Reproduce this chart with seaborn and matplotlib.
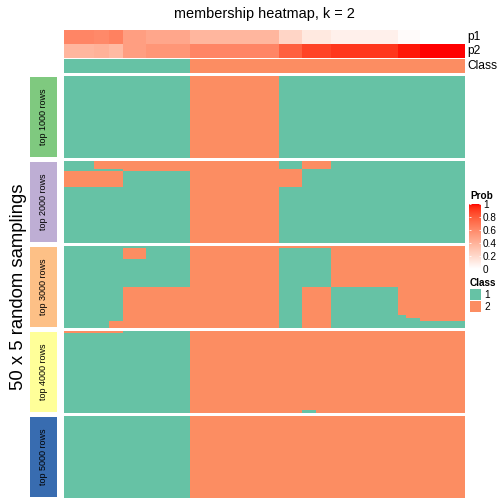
import numpy as np
import matplotlib
matplotlib.use('Agg')
import matplotlib.pyplot as plt
from matplotlib.colors import ListedColormap, Normalize
from matplotlib.patches import Rectangle
import seaborn as sns

# ---- data -------------------------------------------------------------
# membership probabilities of the 54 samples (columns)
p1 = [0.62, 0.62, 0.62, 0.62, 0.60, 0.60, 0.64, 0.64, 0.50, 0.50, 0.50,
      0.46, 0.46, 0.46, 0.46, 0.46, 0.46,
      0.38, 0.38, 0.38, 0.38, 0.38, 0.38, 0.38, 0.38, 0.38, 0.38, 0.38, 0.38,
      0.22, 0.22, 0.22, 0.12, 0.12, 0.12, 0.12,
      0.08, 0.08, 0.08, 0.08, 0.08, 0.08, 0.08, 0.08, 0.08,
      0.02, 0.02, 0.02, 0.0, 0.0, 0.0, 0.0, 0.0, 0.0]
p2 = [0.38, 0.38, 0.38, 0.38, 0.40, 0.40, 0.36, 0.36, 0.50, 0.50, 0.50,
      0.54, 0.54, 0.54, 0.54, 0.54, 0.54,
      0.62, 0.62, 0.62, 0.62, 0.62, 0.62, 0.62, 0.62, 0.62, 0.62, 0.62, 0.62,
      0.78, 0.78, 0.78, 0.88, 0.88, 0.88, 0.88,
      0.92, 0.92, 0.92, 0.92, 0.92, 0.92, 0.92, 0.92, 0.92,
      0.98, 0.98, 0.98, 1.0, 1.0, 1.0, 1.0, 1.0, 1.0]
sample_class = "1111 11 11 111 111111 222222222222 222 2222 222222222 2 22 222222"

# class labels of the 50 random samplings per slice, as (n_rows, row pattern)
slices = {
    "top 1000 rows": [
        (50, "1111 11 11 111 111111 222222222222 111 1111 111111111 1 11 111111"),
    ],
    "top 2000 rows": [
        (5,  "1111 22 22 222 222222 222222222222 111 2222 111111111 1 11 111111"),
        (1,  "1111 11 11 222 222222 222222222222 222 1111 111111111 1 11 111111"),
        (10, "2222 22 22 111 111111 222222222222 222 1111 111111111 1 11 111111"),
        (34, "1111 11 11 111 111111 222222222222 111 1111 111111111 1 11 111111"),
    ],
    "top 3000 rows": [
        (1,  "1111 11 11 111 111111 222222222222 222 2222 222222222 2 22 222222"),
        (7,  "1111 11 11 222 111111 222222222222 111 1111 222222222 2 22 222222"),
        (17, "1111 11 11 111 111111 222222222222 111 1111 222222222 2 22 222222"),
        (17, "1111 11 11 222 222222 222222222222 111 2222 111111111 2 22 222222"),
        (2,  "1111 11 11 222 222222 222222222222 111 2222 111111111 1 22 222222"),
        (2,  "1111 11 11 222 222222 222222222222 111 2222 111111111 1 11 222222"),
        (4,  "1111 11 22 222 222222 222222222222 111 2222 111111111 1 11 111111"),
    ],
    "top 4000 rows": [
        (1,  "2222 22 22 111 111111 222222222222 222 2222 222222222 2 22 222222"),
        (47, "1111 11 11 111 111111 222222222222 222 2222 222222222 2 22 222222"),
        (2,  "1111 11 11 111 111111 222222222222 222 1122 222222222 2 22 222222"),
    ],
    "top 5000 rows": [
        (50, "1111 11 11 111 111111 222222222222 222 2222 222222222 2 22 222222"),
    ],
}
slice_colors = ["#7FC97F", "#BEAED4", "#FDC086", "#FFFF99", "#386CB0"]
class_colors = ["#66C2A5", "#FC8D62"]


def parse(pattern):
    return [int(c) for c in pattern.replace(" ", "")]


def lab_ramp(c0, c1, n=256):
    """white -> red ramp interpolated in LAB space (like colorRamp2)"""
    M = np.array([[0.4124, 0.3576, 0.1805],
                  [0.2126, 0.7152, 0.0722],
                  [0.0193, 0.1192, 0.9505]])
    wp = np.array([0.95047, 1.0, 1.08883])

    def to_lab(c):
        c = np.asarray(c, float)
        lin = np.where(c <= 0.04045, c / 12.92, ((c + 0.055) / 1.055) ** 2.4)
        xyz = M @ lin / wp
        f = np.where(xyz > 0.008856, np.cbrt(xyz), 7.787 * xyz + 16 / 116)
        return np.array([116 * f[1] - 16, 500 * (f[0] - f[1]), 200 * (f[1] - f[2])])

    l0, l1 = to_lab(c0), to_lab(c1)
    t = np.linspace(0, 1, n)[:, None]
    lab = l0 + (l1 - l0) * t
    fy = (lab[:, 0] + 16) / 116
    f = np.stack([fy + lab[:, 1] / 500, fy, fy - lab[:, 2] / 200], 1)
    xyz = np.where(f ** 3 > 0.008856, f ** 3, (f - 16 / 116) / 7.787) * wp
    lin = np.clip(xyz @ np.linalg.inv(M).T, 0, 1)
    rgb = np.where(lin <= 0.0031308, 12.92 * lin, 1.055 * lin ** (1 / 2.4) - 0.055)
    return ListedColormap(np.clip(rgb, 0, 1))


prob_cmap = lab_ramp([1, 1, 1], [1, 0, 0])
class_cmap = ListedColormap(class_colors)

plt.rcParams['font.family'] = ['Liberation Sans', 'DejaVu Sans']

W = H = 504
fig = plt.figure(figsize=(7, 7), dpi=72)


def box(x0, y0, x1, y1):
    # pixel box (top-left origin) -> figure fraction
    return [x0 / W, 1 - y1 / H, (x1 - x0) / W, (y1 - y0) / H]


def fpos(x, y):
    return x / W, 1 - y / H


X0, X1 = 64, 465

# top annotations
for (y0, y1), vals, cmap, vr in [((30, 44), p1, prob_cmap, (0, 1)),
                                 ((44, 58), p2, prob_cmap, (0, 1)),
                                 ((59, 73), parse(sample_class), class_cmap, (1, 2))]:
    ax = fig.add_axes(box(X0, y0, X1, y1))
    sns.heatmap(np.array(vals, float)[None, :], ax=ax, cmap=cmap, vmin=vr[0], vmax=vr[1],
                cbar=False, xticklabels=False, yticklabels=False)
for label, y in [("p1", 37), ("p2", 51), ("Class", 66)]:
    fig.text(*fpos(467, y), label, fontsize=12, ha='left', va='center')

fig.text(*fpos((X0 + X1) / 2, 14), "membership heatmap, k = 2", fontsize=14.5,
         ha='center', va='center')

# slices
slice_y = [(76, 158), (161, 243), (246, 328), (331, 413), (416, 498)]
for (name, runs), (y0, y1), col in zip(slices.items(), slice_y, slice_colors):
    mat = np.array([parse(p) for n, p in runs for _ in range(n)], float)
    ax = fig.add_axes(box(X0, y0, X1, y1))
    sns.heatmap(mat, ax=ax, cmap=class_cmap, vmin=1, vmax=2, cbar=False,
                xticklabels=False, yticklabels=False)
    fig.patches.append(Rectangle(fpos(30, y1 - 1), 27 / W, (y1 - y0 - 2) / H,
                                 transform=fig.transFigure, facecolor=col,
                                 edgecolor='none'))
    fig.text(*fpos(43.5, (y0 + y1) / 2), name, rotation=90, fontsize=9,
             ha='center', va='center')

fig.text(*fpos(19, 287), "50 x 5 random samplings", rotation=90, fontsize=18.5,
         ha='center', va='center')

# legends
fig.text(*fpos(470, 196), "Prob", fontsize=10, fontweight='bold', ha='left', va='center')
cax = fig.add_axes(box(469, 204, 481, 269))
cb = fig.colorbar(plt.cm.ScalarMappable(norm=Normalize(0, 1), cmap=prob_cmap), cax=cax)
cb.outline.set_visible(False)
cb.set_ticks([0, 0.2, 0.4, 0.6, 0.8, 1])
cb.set_ticklabels(["0", "0.2", "0.4", "0.6", "0.8", "1"])
cax.yaxis.set_ticks_position('both')
cax.tick_params(axis='y', direction='in', length=2, width=0.8, color='white',
                labelsize=10, pad=2, labelright=True, labelleft=False)

fig.text(*fpos(470, 283), "Class", fontsize=10, fontweight='bold', ha='left', va='center')
for i, (lab, col) in enumerate(zip(["1", "2"], class_colors)):
    y = 289 + 12 * i
    fig.patches.append(Rectangle(fpos(470, y + 11), 11 / W, 11 / H,
                                 transform=fig.transFigure, facecolor=col,
                                 edgecolor='none'))
    fig.text(*fpos(484, y + 5.5), lab, fontsize=10, ha='left', va='center')

fig.savefig("out.png", dpi=72)
